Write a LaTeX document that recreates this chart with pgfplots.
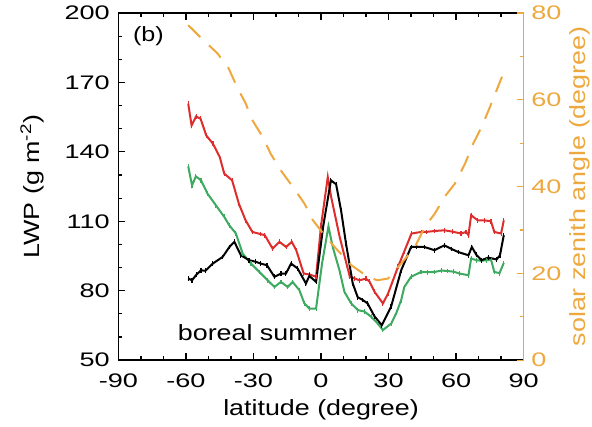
\documentclass[border=0pt]{standalone}
\usepackage{pgfplots}
\pgfplotsset{compat=1.18}
\usepackage{fontspec}
\setmainfont{Liberation Sans}[FakeStretch=1.22]
\newfontfamily\tickfont{Liberation Sans}[FakeStretch=1.38]
\definecolor{cred}{RGB}{222,45,45}
\definecolor{cgreen}{RGB}{60,170,95}
\definecolor{corange}{RGB}{238,168,64}
\begin{document}
\fontsize{11}{13}\selectfont
\begin{tikzpicture}
\useasboundingbox (-59.2pt,-33pt) rectangle (236.7pt,180pt);
\begin{axis}[name=main,
  at={(0,0)}, anchor=south west,
  scale only axis, width=202.5pt, height=173.5pt,
  xmin=-90, xmax=90, ymin=50, ymax=200,
  xtick={-90,-60,...,90}, ytick={50,80,...,200},
  minor xtick={-80,-70,...,80}, minor ytick={60,70,...,190},
  tick align=inside, xtick pos=both, ytick pos=left,
  major tick length=3.5pt, minor tick length=2pt,
  tick style={black, line width=0.6pt},
  axis line style={line width=0.7pt},
  /pgf/number format/assume math mode=true,
  ticklabel style={font=\tickfont\fontsize{9.8}{12}\selectfont},
  xticklabel style={anchor=center, yshift=-10.5pt},
  yticklabel style={xshift=-0.5pt},
  clip=false,
  every axis plot/.append style={line width=1pt, mark=|, mark size=1.2pt, every mark/.append style={line width=0.55pt, solid}},
]
% red
\addplot[cred] coordinates {
(-59,160.8) (-57.5,151.4) (-55.5,155.3) (-53.5,154.3) (-51,147.1) (-48,143.5) (-45,137.8) (-43,130.6)
(-39.5,127.7) (-36.5,117.6) (-33.5,110.4) (-30.5,105.4) (-27,104.5) (-25,104) (-21.5,98.2) (-18.5,101.1)
(-15.5,98.9) (-13,101.1) (-11,97.5) (-7.7,87.4) (-5,87) (-2.2,86) (0,108) (3,129.1) (4.5,120.5)
(8.3,103.2) (12.8,86) (15,85.3) (17,84.5) (20,85.2) (21.5,84) (23.8,79.5) (27.5,74.5) (29.8,78.8)
(34.2,90.3) (37,97) (40.2,104.7) (44.6,105.4) (46.8,105.4) (50.5,105.8) (54.8,106.1) (58.5,105.5) (62.2,104.7)
(64.4,105.4) (65.5,104) (66.7,112.6) (69.6,110.4) (72.5,110.4) (75.5,110) (77,105.4) (80,104.7) (81.2,110.4)
};
% green
\addplot[cgreen] coordinates {
(-59,133.7) (-57.3,125.5) (-55.6,129.4) (-53.3,127.7) (-50.4,121.9) (-46.7,116.9) (-43,111.9) (-40.8,108.3)
(-37.8,104.7) (-34.8,96) (-31.1,91.7) (-27.4,88.1) (-23.7,84.5) (-20.7,81.6) (-17.8,83.8) (-14.8,81.6)
(-12.6,83.8) (-9.6,80.2) (-7.4,74.5) (-5.2,72.3) (-2.2,72.3) (0.5,92) (3.3,107.8) (5.2,98.9) (8.2,88.8)
(10.4,79.5) (13.4,74.5) (16.4,71.6) (19.3,71) (22.3,68.7) (25,66) (27.5,63) (31.2,65.8) (33.5,70.5) (35.6,75.9)
(37,81.6) (40,86) (44.4,88.1) (47.5,88) (50.4,88.1) (53.5,88.7) (56.3,88.5) (59,88.2) (61.5,87.4) (65.5,86.7)
(66.7,93.9) (69,93.2) (71.2,92.9) (73.5,93.2) (75.6,93.2) (77,88.1) (79.3,87.6) (81.2,92)
};
% black
\addplot[black] coordinates {
(-59,85.3) (-57.3,84.5) (-55.3,87) (-53.3,88.8) (-51.4,88.6) (-48.1,91.7) (-43.7,94.6) (-40.7,98.9)
(-38.5,101.1) (-35.6,95.3) (-32,93.2) (-29,92.5) (-26.7,91.7) (-24,91) (-20.7,86) (-17.8,87.4) (-15.6,87.4)
(-13.3,91.7) (-10.4,89.6) (-6.7,83.1) (-5.2,86.4) (-2.2,83.8) (1,108) (4.4,127.7) (6.7,126) (8.9,114.7)
(11.1,100.4) (14.1,83.1) (16.3,77.2) (18.5,76) (20.7,74.5) (23.7,69) (27,65.1) (31.1,73) (35.6,88.8)
(40,98.9) (42.5,99) (45.9,98.9) (50.4,97.5) (54.8,99.6) (58,98) (61,96.7) (65.5,95.3) (67,98.9)
(69,95.5) (71.3,93.2) (74.3,94.3) (78,93.5) (79.5,95.3) (81.2,104)
};
\node[anchor=center, font=\fontsize{10.3}{12}\selectfont] at (axis cs:-76.7,189.9) {(b)};
\node[anchor=center, font=\fontsize{11}{13}\selectfont] at (axis cs:-23.8,61.7) {boreal summer};
\end{axis}
\begin{axis}[
  at={(0,0)}, anchor=south west,
  scale only axis, width=202.5pt, height=173.5pt,
  xmin=-90, xmax=90, ymin=0, ymax=80,
  axis x line=none, axis y line*=right,
  ytick={0,20,...,80}, minor ytick={10,30,50,70},
  tick align=inside,
  major tick length=3.5pt, minor tick length=2pt,
  y axis line style={corange, line width=0.8pt, -},
  ytick style={corange, line width=0.6pt},
  yticklabel style={corange, font=\tickfont\fontsize{9.8}{12}\selectfont},
  /pgf/number format/assume math mode=true,
  clip=false,
]
\addplot[corange, line width=1pt, dash pattern=on 8.5pt off 6pt] coordinates {
(-59,77.2) (-53,74.1) (-46,70.7) (-41,67.2) (-37,62.6) (-33.5,59.2) (-30.5,55.3) (-26,51.5)
(-22.4,47.6) (-18,43.8) (-12.6,40) (-7.4,36.1) (-3.7,32.3) (1.5,28.8) (6,26.1) (13.4,21.9)
(20.8,19.2) (25,18.4) (29.8,18.8) (35.7,22.3) (41.7,26.1) (46.1,30.7) (50.6,33.8) (55,37.7)
(59.5,40.7) (64,45.3) (67.7,50) (71.4,53.8) (75.1,58.4) (80.4,65.3)
};
\end{axis}
\node[rotate=90, anchor=center] at ([xshift=-43.2pt]main.west) {LWP (g m\textsuperscript{-2})};
\node[rotate=90, anchor=center, text=corange] at ([xshift=28pt]main.east) {solar zenith angle (degree)};
\node[anchor=center] at ([yshift=-25pt]main.south) {latitude (degree)};
\end{tikzpicture}
\end{document}
